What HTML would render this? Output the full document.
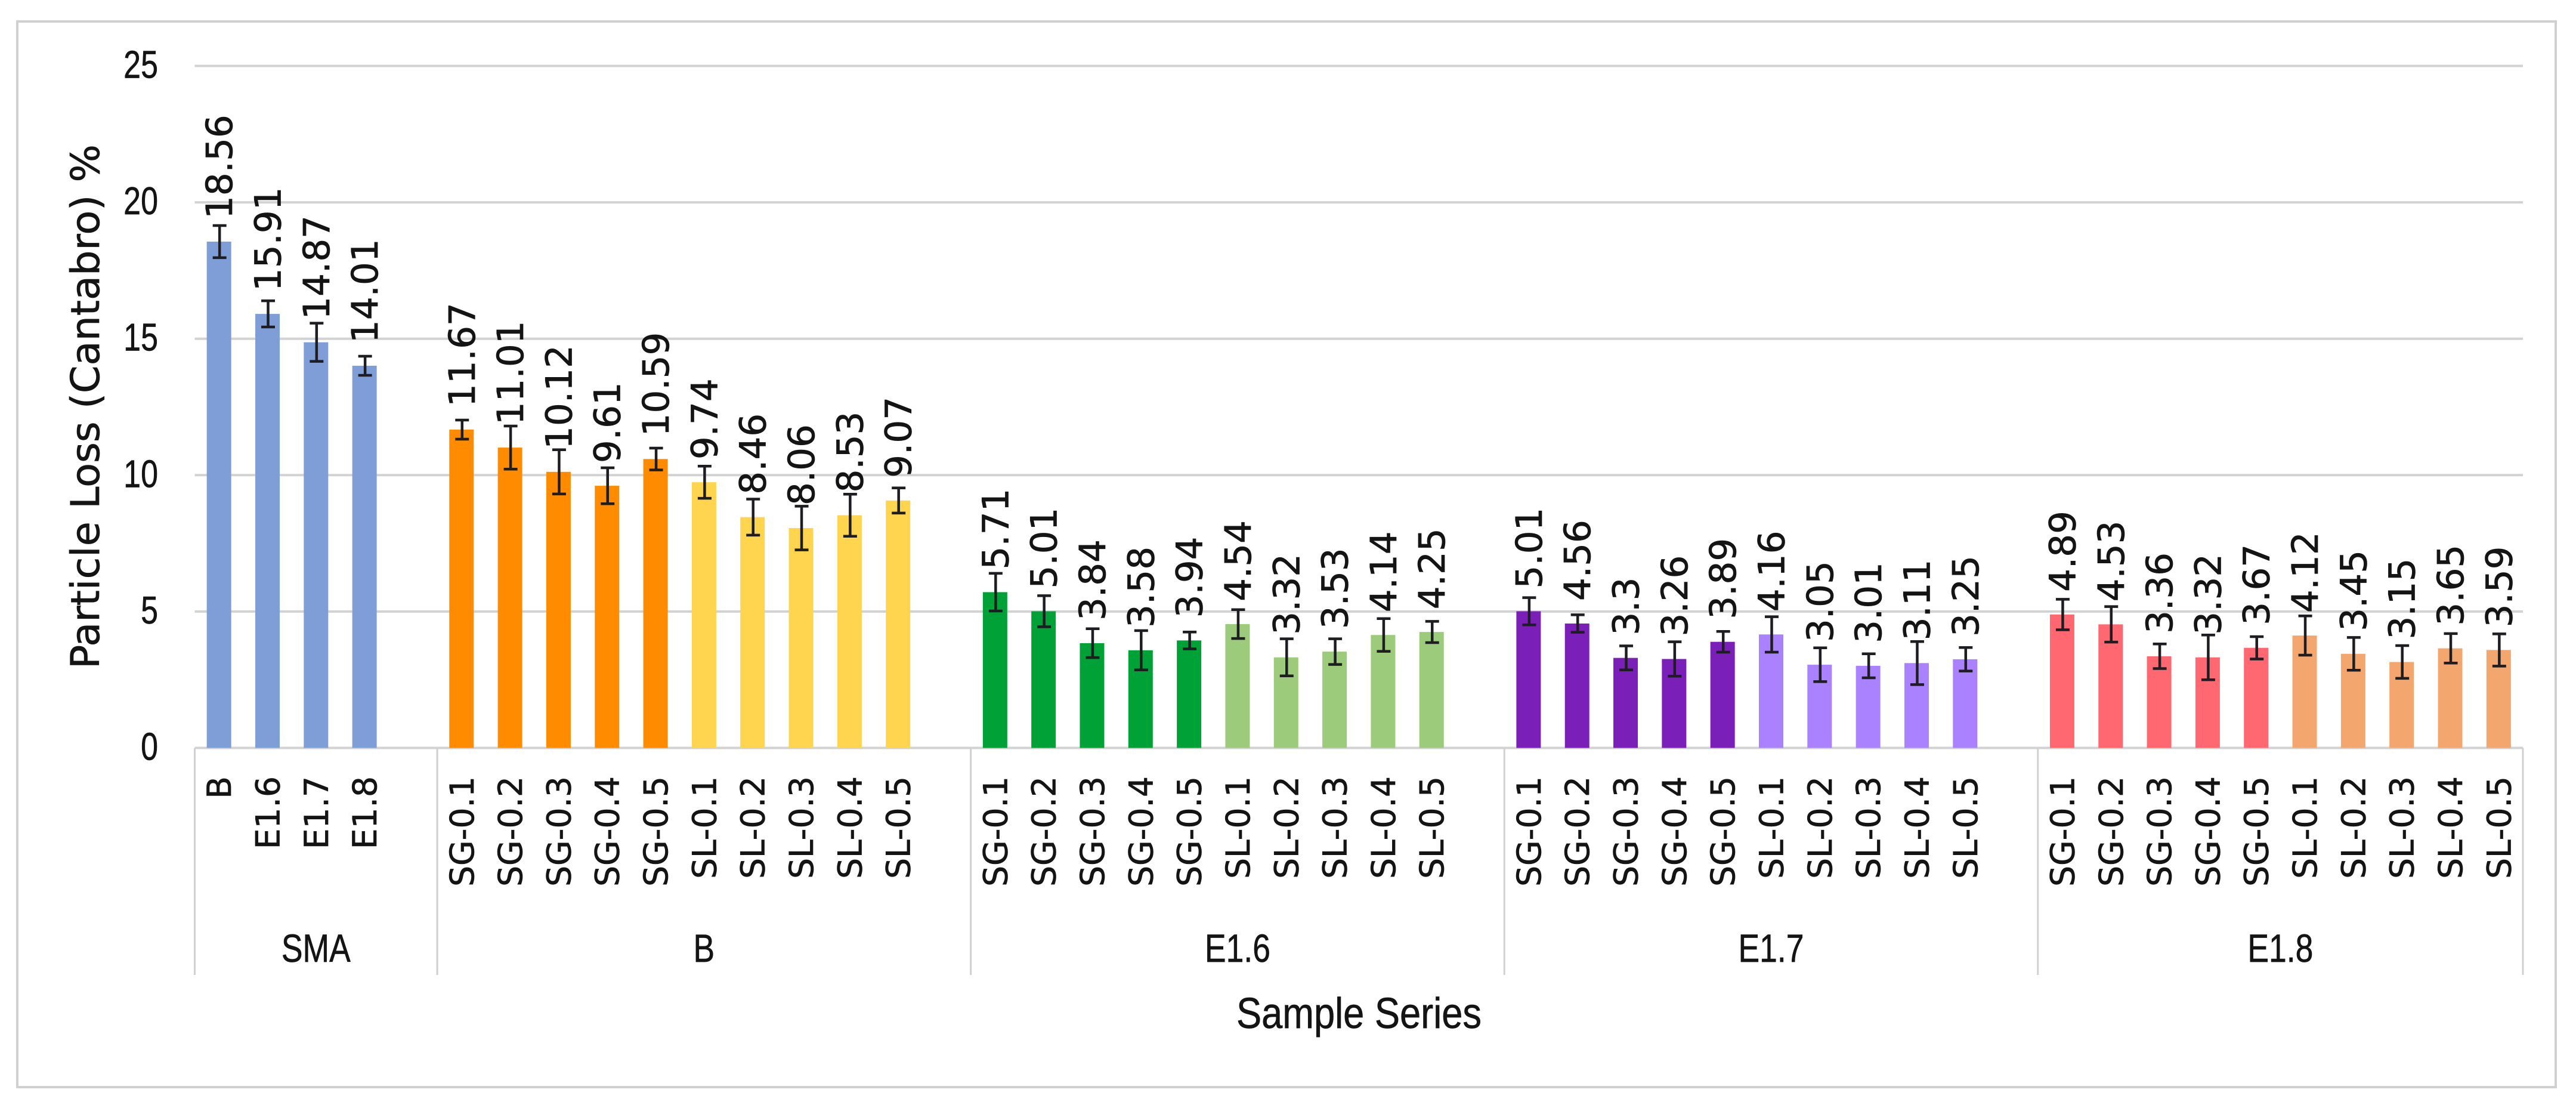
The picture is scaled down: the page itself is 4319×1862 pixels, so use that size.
<!DOCTYPE html>
<html lang="en">
<head>
<meta charset="utf-8">
<title>Particle Loss (Cantabro) by Sample Series</title>
<style>
  html, body { margin: 0; padding: 0; background: #fff; }
  svg { display: block; }
  .rot { font-family: "DejaVu Sans", sans-serif; fill: #141414; stroke: #141414; stroke-width: 0.7; }
  .hor { font-family: "Liberation Sans", sans-serif; fill: #141414; stroke: #141414; stroke-width: 0.7; }
  .grid { stroke: #d2d2d2; stroke-width: 4; }
  .err { stroke: #1d1d22; fill: none; }
  .bar-sma { fill: #7f9ed8; }
  .bar-b-sg { fill: #ff8b00; }
  .bar-b-sl { fill: #ffd44f; }
  .bar-e16-sg { fill: #00a237; }
  .bar-e16-sl { fill: #9dcb7c; }
  .bar-e17-sg { fill: #7a20b8; }
  .bar-e17-sl { fill: #aa82ff; }
  .bar-e18-sg { fill: #ff6870; }
  .bar-e18-sl { fill: #f3a66e; }
</style>
</head>
<body>
<svg id="chart" xmlns="http://www.w3.org/2000/svg" width="4319" height="1862" viewBox="0 0 4319 1862">
  <rect x="0" y="0" width="4319" height="1862" fill="#ffffff"/>
  <rect x="29" y="36" width="4256" height="1786" fill="#ffffff" stroke="#d0d0d0" stroke-width="4"/>
  <g id="grid-layer"></g>
  <g id="bar-layer"></g>
  <g id="err-layer"></g>
  <g id="label-layer"></g>
  <g id="axis-layer"></g>
  <text class="rot" transform="translate(166,1121) rotate(-90)" font-size="66" textLength="879" lengthAdjust="spacingAndGlyphs">Particle Loss (Cantabro) %</text>
  <text class="hor" x="2073" y="1723" font-size="72" textLength="411" lengthAdjust="spacingAndGlyphs">Sample Series</text>
</svg>
<script>
const groupNames = ['SMA', 'B', 'E1.6', 'E1.7', 'E1.8'];
const groupKeys = ['sma', 'b', 'e16', 'e17', 'e18'];
const smaCategories = ['B', 'E1.6', 'E1.7', 'E1.8'];
const mixCategories = ['SG-0.1', 'SG-0.2', 'SG-0.3', 'SG-0.4', 'SG-0.5', 'SL-0.1', 'SL-0.2', 'SL-0.3', 'SL-0.4', 'SL-0.5'];
const yTickLabels = [0, 5, 10, 15, 20, 25];

const smaValues = [18.56, 15.91, 14.87, 14.01];
const bValues = [11.67, 11.01, 10.12, 9.61, 10.59, 9.74, 8.46, 8.06, 8.53, 9.07];
const e16Values = [5.71, 5.01, 3.84, 3.58, 3.94, 4.54, 3.32, 3.53, 4.14, 4.25];
const e17Values = [5.01, 4.56, 3.3, 3.26, 3.89, 4.16, 3.05, 3.01, 3.11, 3.25];
const e18Values = [4.89, 4.53, 3.36, 3.32, 3.67, 4.12, 3.45, 3.15, 3.65, 3.59];

const smaErrors = [0.59, 0.48, 0.70, 0.35];
const bErrors = [0.35, 0.79, 0.81, 0.66, 0.40, 0.59, 0.66, 0.80, 0.77, 0.46];
const e16Errors = [0.69, 0.57, 0.53, 0.72, 0.31, 0.53, 0.68, 0.47, 0.60, 0.39];
const e17Errors = [0.50, 0.32, 0.44, 0.63, 0.38, 0.65, 0.62, 0.44, 0.79, 0.43];
const e18Errors = [0.56, 0.65, 0.45, 0.82, 0.41, 0.72, 0.60, 0.60, 0.54, 0.59];

const NS = 'http://www.w3.org/2000/svg';
const plotLeft = 326.5, plotRight = 4230, plotTop = 110.5, plotBottom = 1253.5, yMax = 25, totalSlots = 48;
function yScale(v) { return plotBottom - (v / yMax) * (plotBottom - plotTop); }
function slotLeft(i) { return plotLeft + i * (plotRight - plotLeft) / totalSlots; }
function slotCenter(i) { return slotLeft(i + 0.5); }
function make(tag, parentId) {
  const el = document.createElementNS(NS, tag);
  document.getElementById(parentId).appendChild(el);
  return el;
}
function seg(parentId, x1, y1, x2, y2) {
  const l = make('line', parentId);
  l.setAttribute('x1', x1);
  l.setAttribute('y1', y1);
  l.setAttribute('x2', x2);
  l.setAttribute('y2', y2);
  return l;
}

yTickLabels.forEach(function (t) {
  const y = yScale(t);
  if (t > 0) {
    const g = seg('grid-layer', plotLeft, y, plotRight, y);
    g.setAttribute('class', 'grid');
    
    
  }
  const lab = make('text', 'axis-layer');
  lab.setAttribute('class', 'hor');
  lab.setAttribute('font-size', '65');
  lab.setAttribute('text-anchor', 'end');
  lab.setAttribute('transform', 'translate(265,' + (y + 20) + ') scale(0.8,1)');
  
  
  lab.textContent = String(t);
});

const baseLine = seg('grid-layer', plotLeft, plotBottom, plotRight, plotBottom);
baseLine.setAttribute('class', 'grid');



const groupValues = [smaValues, bValues, e16Values, e17Values, e18Values];
const groupErrors = [smaErrors, bErrors, e16Errors, e17Errors, e18Errors];

let slot = 0;
groupNames.forEach(function (name, gi) {
  const vals = groupValues[gi];
  const errs = groupErrors[gi];
  const cats = gi === 0 ? smaCategories : mixCategories;
  const start = slot;
  const span = vals.length + (gi === groupNames.length - 1 ? 0 : 1);

  const sep = seg('axis-layer', slotLeft(start), plotBottom, slotLeft(start), 1634);
  sep.setAttribute('stroke', '#d0d0d0');
  sep.setAttribute('stroke-width', '3');
  
  

  vals.forEach(function (v, i) {
    const cx = slotCenter(start + i);
    const top = yScale(v);
    const kind = gi === 0 ? 'bar-sma' : 'bar-' + groupKeys[gi] + '-' + cats[i].slice(0, 2).toLowerCase();

    const bar = make('rect', 'bar-layer');
    bar.setAttribute('x', cx - 20.5);
    bar.setAttribute('y', top);
    bar.setAttribute('width', 41);
    bar.setAttribute('height', plotBottom - top);
    bar.setAttribute('class', kind);
    
    

    const eTop = yScale(v + errs[i]);
    const eBot = yScale(v - errs[i]);
    const ex = cx + 1;
    const path = make('path', 'err-layer');
    path.setAttribute('d', 'M' + ex + ' ' + eTop + 'V' + eBot + 'M' + (ex - 11.5) + ' ' + eTop + 'H' + (ex + 11.5) + 'M' + (ex - 11.5) + ' ' + eBot + 'H' + (ex + 11.5));
    path.setAttribute('class', 'err');
    path.setAttribute('stroke-width', '4.5');
    
    

    const dl = make('text', 'label-layer');
    dl.setAttribute('class', 'rot');
    dl.setAttribute('font-size', '61');
    dl.setAttribute('transform', 'translate(' + (cx + 22) + ',' + (top - 38) + ') rotate(-90)');
    
    
    dl.textContent = String(v);

    const tl = make('text', 'axis-layer');
    tl.setAttribute('class', 'rot');
    tl.setAttribute('font-size', '55');
    tl.setAttribute('text-anchor', 'end');
    tl.setAttribute('transform', 'translate(' + (cx + 20) + ',1301) rotate(-90)');
    
    
    tl.textContent = cats[i];
  });

  const gl = make('text', 'axis-layer');
  gl.setAttribute('class', 'hor');
  gl.setAttribute('font-size', '66');
  gl.setAttribute('text-anchor', 'middle');
  gl.setAttribute('transform', 'translate(' + (slotLeft(start + span / 2)) + ',1612) scale(0.81,1)');
  
  
  gl.textContent = name;

  slot += span;
});

const endSep = seg('axis-layer', plotRight, plotBottom, plotRight, 1634);
endSep.setAttribute('stroke', '#d0d0d0');
endSep.setAttribute('stroke-width', '3');


</script>
</body>
</html>
